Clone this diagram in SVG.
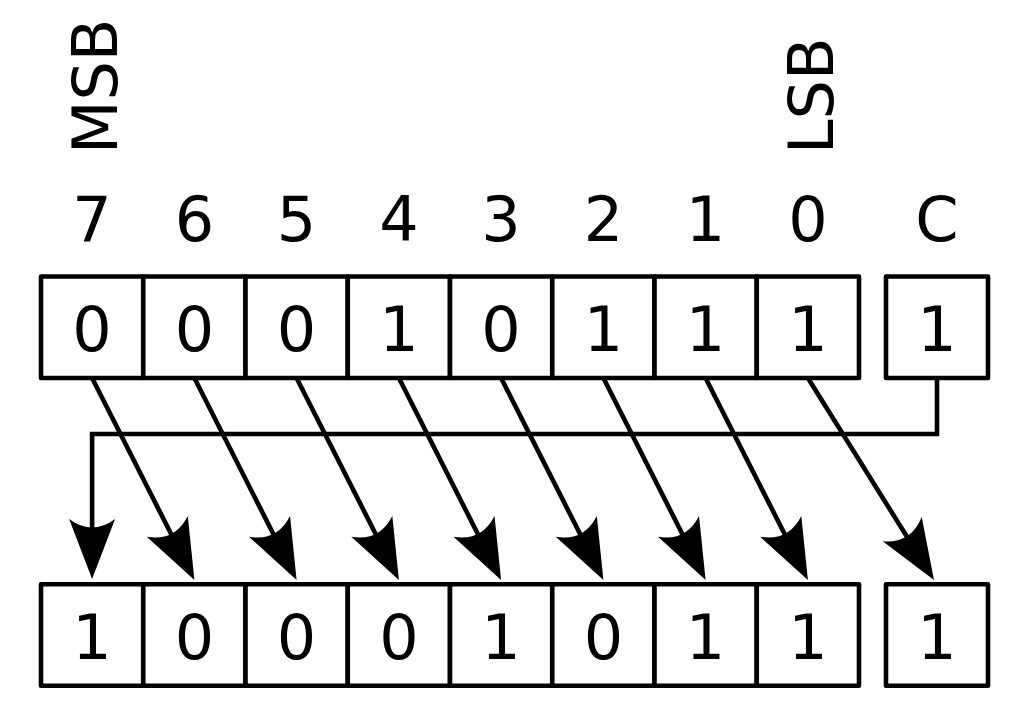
<svg xmlns="http://www.w3.org/2000/svg" width="1024" height="717" viewBox="0 0 1024 717">
<style>
.box{fill:#fff;stroke:#000;stroke-width:4.6;stroke-linejoin:round}
.t{font-family:"DejaVu Sans",sans-serif;font-size:62px;fill:#000;text-anchor:middle}
.lbl{font-family:"DejaVu Sans",sans-serif;font-size:62px;fill:#000}
.con{fill:none;stroke:#000;stroke-width:4.6;stroke-linejoin:miter}
</style>
<defs>
<marker id="ah" markerUnits="userSpaceOnUse" viewBox="-34 -26 68 52" markerWidth="68" markerHeight="52" refX="0" refY="0" orient="auto" overflow="visible">
<path d="M30,0 L-30,-23 Q-13,0 -30,23 Z" fill="#000"/>
</marker>
</defs>
<rect width="1024" height="717" fill="#fff"/>
<g id="labels">
<text class="lbl" transform="translate(117,154) rotate(-90)">MSB</text>
<text class="lbl" transform="translate(833,154) rotate(-90)">LSB</text>
<text class="t" x="92.1" y="241">7</text>
<text class="t" x="194.4" y="241">6</text>
<text class="t" x="296.6" y="241">5</text>
<text class="t" x="398.9" y="241">4</text>
<text class="t" x="501.1" y="241">3</text>
<text class="t" x="603.4" y="241">2</text>
<text class="t" x="705.6" y="241">1</text>
<text class="t" x="807.9" y="241">0</text>
<text class="t" x="937" y="241">C</text>
</g>
<g id="top-row">
<g id="top-b7"><rect class="box" x="41" y="276.5" width="102.25" height="101.5"/><text class="t" x="92.1" y="351">0</text></g>
<g id="top-b6"><rect class="box" x="143.25" y="276.5" width="102.25" height="101.5"/><text class="t" x="194.4" y="351">0</text></g>
<g id="top-b5"><rect class="box" x="245.5" y="276.5" width="102.25" height="101.5"/><text class="t" x="296.6" y="351">0</text></g>
<g id="top-b4"><rect class="box" x="347.75" y="276.5" width="102.25" height="101.5"/><text class="t" x="398.9" y="351">1</text></g>
<g id="top-b3"><rect class="box" x="450" y="276.5" width="102.25" height="101.5"/><text class="t" x="501.1" y="351">0</text></g>
<g id="top-b2"><rect class="box" x="552.25" y="276.5" width="102.25" height="101.5"/><text class="t" x="603.4" y="351">1</text></g>
<g id="top-b1"><rect class="box" x="654.5" y="276.5" width="102.25" height="101.5"/><text class="t" x="705.6" y="351">1</text></g>
<g id="top-b0"><rect class="box" x="756.75" y="276.5" width="102.25" height="101.5"/><text class="t" x="807.9" y="351">1</text></g>
<g id="top-c"><rect class="box" x="886" y="276.5" width="102" height="101.5"/><text class="t" x="937" y="351">1</text></g>
</g>
<g id="bottom-row">
<g id="bot-b7"><rect class="box" x="41" y="584.2" width="102.25" height="101.5"/><text class="t" x="92.1" y="659">1</text></g>
<g id="bot-b6"><rect class="box" x="143.25" y="584.2" width="102.25" height="101.5"/><text class="t" x="194.4" y="659">0</text></g>
<g id="bot-b5"><rect class="box" x="245.5" y="584.2" width="102.25" height="101.5"/><text class="t" x="296.6" y="659">0</text></g>
<g id="bot-b4"><rect class="box" x="347.75" y="584.2" width="102.25" height="101.5"/><text class="t" x="398.9" y="659">0</text></g>
<g id="bot-b3"><rect class="box" x="450" y="584.2" width="102.25" height="101.5"/><text class="t" x="501.1" y="659">1</text></g>
<g id="bot-b2"><rect class="box" x="552.25" y="584.2" width="102.25" height="101.5"/><text class="t" x="603.4" y="659">0</text></g>
<g id="bot-b1"><rect class="box" x="654.5" y="584.2" width="102.25" height="101.5"/><text class="t" x="705.6" y="659">1</text></g>
<g id="bot-b0"><rect class="box" x="756.75" y="584.2" width="102.25" height="101.5"/><text class="t" x="807.9" y="659">1</text></g>
<g id="bot-c"><rect class="box" x="886" y="584.2" width="102" height="101.5"/><text class="t" x="937" y="659">1</text></g>
</g>
<g id="connectors">
<path class="con" d="M937,378 V434 H92.1 V549" marker-end="url(#ah)"/>
<path class="con" d="M92.1,378 L180.85,553.2" marker-end="url(#ah)"/>
<path class="con" d="M194.4,378 L283.05,553.2" marker-end="url(#ah)"/>
<path class="con" d="M296.6,378 L385.35,553.2" marker-end="url(#ah)"/>
<path class="con" d="M398.9,378 L487.55,553.2" marker-end="url(#ah)"/>
<path class="con" d="M501.1,378 L589.85,553.2" marker-end="url(#ah)"/>
<path class="con" d="M603.4,378 L692.05,553.2" marker-end="url(#ah)"/>
<path class="con" d="M705.6,378 L794.35,553.2" marker-end="url(#ah)"/>
<path class="con" d="M807.9,378 L918.1,554.55" marker-end="url(#ah)"/>
</g>
</svg>
